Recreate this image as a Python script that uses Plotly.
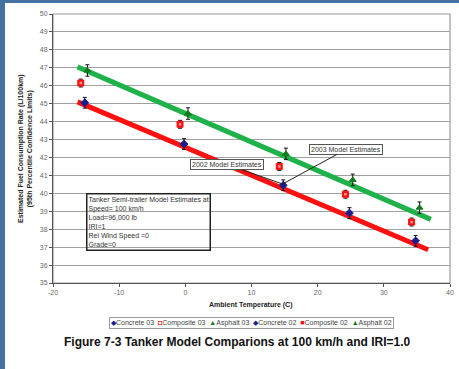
import plotly.graph_objects as go

# ---- data ----
concrete_x = [-15.2, -0.2, 14.8, 24.8, 34.8]
concrete_y = [45.05, 42.75, 40.45, 38.9, 37.35]
composite_x = [-15.8, -0.8, 14.2, 24.2, 34.2]
composite_y = [46.15, 43.85, 41.5, 39.95, 38.4]
asphalt_x = [-14.8, 0.4, 15.2, 25.3, 35.4]
asphalt_y = [46.85, 44.45, 42.2, 40.75, 39.2]
concrete_err = [0.3, 0.3, 0.3, 0.3, 0.3]
composite_err = [0.22, 0.22, 0.22, 0.22, 0.22]
asphalt_err = [0.32, 0.32, 0.32, 0.32, 0.32]

model03_x = [-16.3, 37.1]
model03_y = [47.05, 38.55]
model02_x = [-16.3, 36.7]
model02_y = [45.1, 36.85]

x_ticks = [-20, -10, 0, 10, 20, 30, 40]
y_ticks = list(range(35, 51))

FONT = "Liberation Sans, Arial, sans-serif"
NAVY = "#1c1c8a"
RED = "#ff1010"
DGREEN = "#0f7a1a"
LGREEN = "#1fb14a"

fig = go.Figure()

# model lines
fig.add_trace(go.Scatter(x=model03_x, y=model03_y, mode="lines",
                         line=dict(color=LGREEN, width=5), showlegend=False, hoverinfo="skip"))
fig.add_trace(go.Scatter(x=model02_x, y=model02_y, mode="lines",
                         line=dict(color=RED, width=5), showlegend=False, hoverinfo="skip"))

def pts(x, y, err, symbol, color, size):
    return go.Scatter(x=x, y=y, mode="markers", showlegend=False,
                      marker=dict(symbol=symbol, size=size, color=color,
                                  line=dict(color=color, width=1)),
                      error_y=dict(type="data", array=err, color="#111",
                                   thickness=1, width=2))

fig.add_trace(pts(concrete_x, concrete_y, concrete_err, "diamond", NAVY, 6))
fig.add_trace(pts(composite_x, composite_y, composite_err, "square", RED, 6))
fig.add_trace(pts(asphalt_x, asphalt_y, asphalt_err, "triangle-up", DGREEN, 6))
fig.add_trace(go.Scatter(x=composite_x, y=composite_y, mode="markers", showlegend=False,
                         marker=dict(symbol="square", size=2.5, color="#ff9a9a")))

W, H = 459, 369
ml, mr, mt, mb = 53, 9, 14, 86
pw, ph = W - ml - mr, H - mt - mb

def px(xp):
    return (xp - ml) / pw

def py(yp):
    return (H - mb - yp) / ph

BLUE = "#46709f"
shapes = [
    dict(type="rect", xref="paper", yref="paper", x0=px(-2), x1=px(5), y0=py(H + 2), y1=py(-2),
         fillcolor=BLUE, line=dict(width=0), layer="below"),
    dict(type="rect", xref="paper", yref="paper", x0=px(-2), x1=px(W + 2), y0=py(3), y1=py(-2),
         fillcolor=BLUE, line=dict(width=0), layer="below"),
    dict(type="rect", xref="paper", yref="paper", x0=0, x1=1, y0=0, y1=1,
         line=dict(color="#9a9a9a", width=1.2), layer="below"),
]

legend_txt = (
    f"<span style='color:{NAVY}'>◆</span>Concrete 03  "
    f"<span style='color:{RED}'>◘</span>Composite 03  "
    f"<span style='color:{DGREEN}'>▲</span>Asphalt 03  "
    f"<span style='color:{NAVY}'>◆</span>Concrete 02  "
    f"<span style='color:{RED}'>■</span>Composite 02  "
    f"<span style='color:{DGREEN}'>▲</span>Asphalt 02"
)

annotations = [
    dict(xref="paper", yref="paper", x=px(25.5), y=0.5, xanchor="center", yanchor="middle",
         textangle=-90, showarrow=False,
         text="<b>Estimated Fuel Consumption Rate (L/100km)</b><br><b>(95th Percentile Confidence Limits)</b>",
         font=dict(family=FONT, size=7, color="#222")),
    dict(xref="paper", yref="paper", x=px(251), y=py(305), xanchor="center", yanchor="middle",
         showarrow=False,
         text="<b>Ambient Temperature (C)</b>", font=dict(family=FONT, size=7, color="#222")),
    dict(xref="paper", yref="paper", x=px(251), y=py(322.5), xanchor="center", yanchor="middle",
         showarrow=False,
         text=legend_txt, font=dict(family=FONT, size=7, color="#444"),
         bordercolor="#999", borderwidth=1, borderpad=1, bgcolor="white"),
    dict(xref="paper", yref="paper", x=px(237), y=py(342), xanchor="center", yanchor="middle",
         showarrow=False,
         text="<b>Figure 7-3 Tanker Model Comparions at 100 km/h and IRI=1.0</b>",
         font=dict(family=FONT, size=12, color="#111")),
    dict(xref="x", yref="y", x=-15.0, y=40.0, xanchor="left", yanchor="top", showarrow=False,
         align="left",
         text="Tanker Semi-trailer Model Estimates at<br>Speed= 100 km/h<br>Load=96,000 lb<br>IRI=1<br>Rel Wind Speed =0<br>Grade=0",
         font=dict(family=FONT, size=7, color="#333"),
         bordercolor="#222", borderwidth=1.5, borderpad=1),
    dict(xref="x", yref="y", x=14.85, y=40.55, axref="x", ayref="y", ax=24.3, ay=42.45,
         text="2003 Model Estimates", showarrow=True, arrowhead=0, arrowwidth=1, arrowcolor="#222",
         font=dict(family=FONT, size=7, color="#333"), bordercolor="#555", borderwidth=1,
         borderpad=1, bgcolor="white"),
    dict(xref="x", yref="y", x=14.85, y=40.5, axref="x", ayref="y", ax=6.35, ay=41.6,
         text="2002 Model Estimates", showarrow=True, arrowhead=0, arrowwidth=1, arrowcolor="#222",
         font=dict(family=FONT, size=7, color="#333"), bordercolor="#555", borderwidth=1,
         borderpad=1, bgcolor="white"),
]

fig.update_layout(
    width=W, height=H,
    margin=dict(l=ml, r=mr, t=mt, b=mb, autoexpand=False),
    paper_bgcolor="white", plot_bgcolor="white",
    showlegend=False,
    shapes=shapes,
    annotations=annotations,
    xaxis=dict(range=[-20, 40], tickvals=x_ticks, ticktext=[str(v) for v in x_ticks],
               automargin=False,
               showgrid=False, zeroline=False, showline=True, linecolor="#555", linewidth=1,
               ticks="outside", ticklen=3, tickcolor="#555",
               tickfont=dict(family=FONT, size=7, color="#666")),
    yaxis=dict(range=[35, 50], tickvals=y_ticks, ticktext=[str(v) for v in y_ticks],
               automargin=False,
               showgrid=True, gridcolor="#a0a0a0", gridwidth=1.2, zeroline=False,
               showline=True, linecolor="#555", linewidth=1,
               ticks="outside", ticklen=3, tickcolor="#555",
               tickfont=dict(family=FONT, size=7, color="#666")),
)

fig.write_html("out.html", config={"displayModeBar": False},
               post_script="document.body.style.margin='0';document.body.style.overflow='hidden';")
